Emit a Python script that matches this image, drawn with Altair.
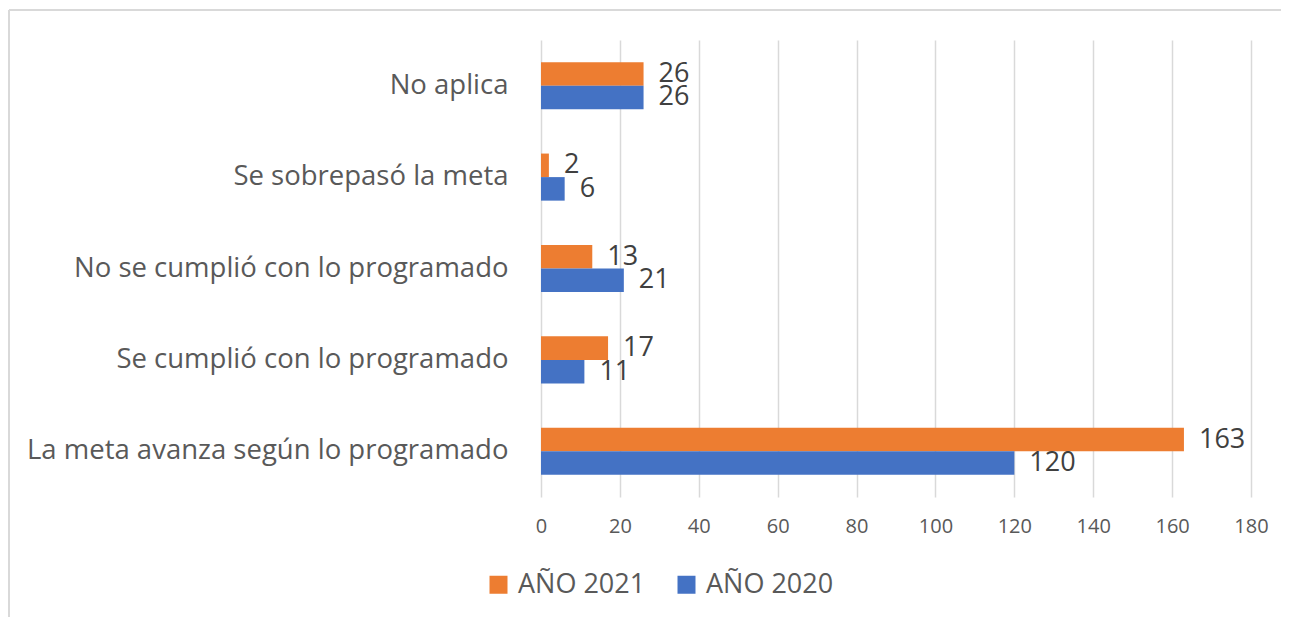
import altair as alt
import pandas as pd

categories = [
    "No aplica",
    "Se sobrepasó la meta",
    "No se cumplió con lo programado",
    "Se cumplió con lo programado",
    "La meta avanza según lo programado",
]
series = ["AÑO 2021", "AÑO 2020"]
values_2021 = [26, 2, 13, 17, 163]
values_2020 = [26, 6, 21, 11, 120]
x_ticks = [0, 20, 40, 60, 80, 100, 120, 140, 160, 180]

rows = []
for c, v1, v0 in zip(categories, values_2021, values_2020):
    rows.append({"cat": c, "serie": "AÑO 2021", "val": v1})
    rows.append({"cat": c, "serie": "AÑO 2020", "val": v0})
df = pd.DataFrame(rows)

FONT = "Open Sans"

x_enc = alt.X(
    "val:Q",
    scale=alt.Scale(domain=[0, 180], nice=False),
    axis=alt.Axis(
        values=x_ticks, title=None, domain=False, ticks=False,
        labelFont=FONT, labelFontSize=20, labelColor="#595959",
        labelPadding=19, labelFlush=False,
        grid=True, gridColor="#d9d9d9", gridWidth=1.5,
    ),
)
y_enc = alt.Y(
    "cat:N",
    sort=categories,
    scale=alt.Scale(paddingInner=0.485, paddingOuter=0.2425),
    axis=alt.Axis(
        title=None, domain=False, ticks=False,
        labelFont=FONT, labelFontSize=27.5, labelColor="#595959",
        labelPadding=33, labelLimit=600,
    ),
)
yoff = alt.YOffset("serie:N", sort=series, scale=alt.Scale(domain=series))

bars = alt.Chart(df).mark_bar().encode(
    x=x_enc,
    y=y_enc,
    yOffset=yoff,
    color=alt.Color(
        "serie:N",
        scale=alt.Scale(domain=series, range=["#ED7D31", "#4472C4"]),
        legend=alt.Legend(
            title=None, orient="none", direction="horizontal",
            legendX=-56, legendY=531,
            symbolType="square", symbolSize=324, symbolStrokeWidth=0,
            symbolOpacity=1,
            labelFont=FONT, labelFontSize=27, labelColor="#595959",
            labelOffset=6, columnPadding=27, labelLimit=300,
        ),
    ),
)

labels = alt.Chart(df).mark_text(
    align="left", baseline="middle", dx=15, font=FONT, fontSize=27, color="#404040"
).encode(
    x="val:Q",
    y=alt.Y("cat:N", sort=categories),
    yOffset=yoff,
    text="val:Q",
)

border_top = alt.Chart(df).mark_rule(color="#d9d9d9", strokeWidth=2).encode(
    x=alt.value(-532), x2=alt.value(760), y=alt.value(-30)
)
border_left = alt.Chart(df).mark_rule(color="#d9d9d9", strokeWidth=2).encode(
    x=alt.value(-532), y=alt.value(-30), y2=alt.value(600)
)

chart = (
    alt.layer(bars, labels, border_top, border_left)
    .properties(
        width=710, height=457,
        padding={"left": 533, "top": 32, "right": 30, "bottom": 120},
        autosize=alt.AutoSizeParams(type="none"),
    )
    .configure_view(stroke=None)
)

chart.save("out.html", embed_options={"renderer": "svg", "actions": False})
